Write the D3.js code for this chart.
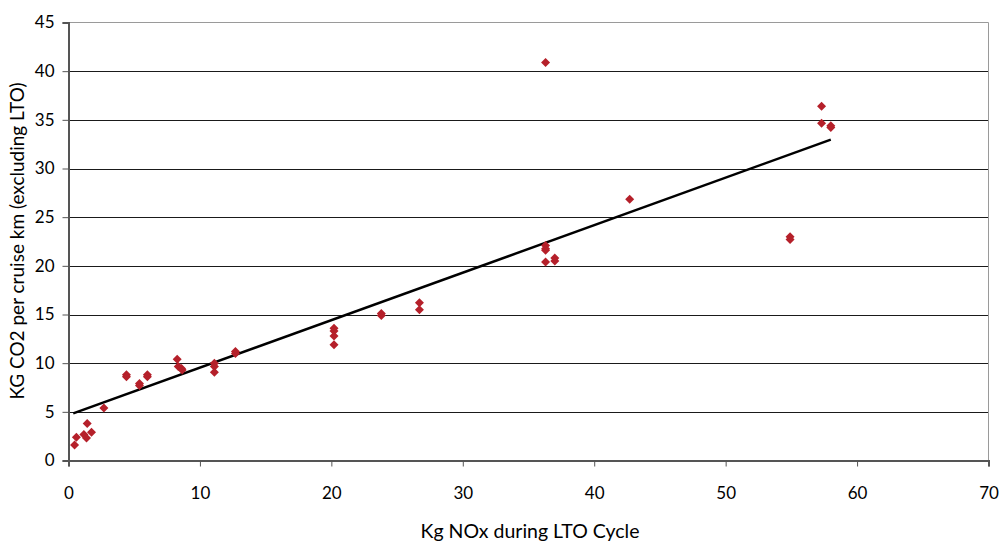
<!DOCTYPE html>
<html>
<head>
<meta charset="utf-8">
<script src="https://cdn.jsdelivr.net/npm/d3@7"></script>
<style>
  html, body { margin: 0; padding: 0; background: #ffffff; }
  svg { display: block; }
  text { font-family: "Lato", "Open Sans", sans-serif; fill: #000; }
</style>
</head>
<body>
<svg id="chart" width="1001" height="551"></svg>
<script>
// ---- data ----
const noxKg = [0.46, 0.6, 1.17, 1.37, 1.42, 1.75, 2.69, 4.41, 4.41, 5.4, 5.4, 6.0, 6.0,
  8.27, 8.35, 8.6, 8.65, 11.1, 11.1, 11.1, 12.7, 12.7, 20.2, 20.2, 20.2, 20.2,
  23.8, 23.8, 26.7, 26.7, 36.3, 36.3, 36.3, 36.3, 36.3, 37.0, 37.0, 42.7,
  54.9, 54.9, 57.3, 57.3, 58.0, 58.0];
const co2Kg = [1.6, 2.4, 2.67, 2.3, 3.8, 2.9, 5.4, 8.8, 8.6, 7.9, 7.7, 8.8, 8.6,
  10.4, 9.66, 9.45, 9.3, 10.0, 9.66, 9.07, 11.2, 11.0, 13.6, 13.3, 12.8, 11.9,
  15.1, 14.9, 16.2, 15.5, 40.9, 22.1, 21.75, 21.6, 20.4, 20.8, 20.5, 26.85,
  23.0, 22.7, 36.4, 34.65, 34.4, 34.2];
// linear trendline as shown on the chart: [slope, intercept]
const trendCoef = [0.488, 4.66];
const xTicks = [0, 10, 20, 30, 40, 50, 60, 70];
const yTicks = [0, 5, 10, 15, 20, 25, 30, 35, 40, 45];
const xTitle = "Kg NOx during LTO Cycle";
const yTitle = "KG CO2 per cruise km (excluding LTO)";

// ---- layout ----
const svg = d3.select("#chart");
const L = 68.5, R = 988.5, T = 22.5, B = 460.5;
const x = d3.scaleLinear().domain([0, 70]).range([L, R]);
const y = d3.scaleLinear().domain([0, 45]).range([B, T]);

// gridlines
svg.append("g").selectAll("line").data(yTicks.filter(v => v > 0 && v < 45)).join("line")
  .attr("x1", L).attr("x2", R)
  .attr("y1", d => Math.round(y(d)) + 0.5).attr("y2", d => Math.round(y(d)) + 0.5)
  .attr("stroke", "#1a1a1a").attr("stroke-width", 1);

// plot border (top, right)
svg.append("path")
  .attr("d", `M${L},${T}H${R}V${B}`)
  .attr("fill", "none").attr("stroke", "#9a9a9a").attr("stroke-width", 1);

// axes
const xAxis = d3.axisBottom(x).tickValues(xTicks).tickSize(6).tickPadding(20).tickFormat(d3.format("d"));
const yAxis = d3.axisLeft(y).tickValues(yTicks).tickSize(6).tickPadding(8).tickFormat(d3.format("d"));

const gx = svg.append("g").attr("transform", `translate(0,${B})`).call(xAxis);
const gy = svg.append("g").attr("transform", `translate(${L},0)`).call(yAxis);
[gx, gy].forEach(g => {
  g.select(".domain").attr("stroke", "#555").attr("stroke-width", 2);
  g.selectAll(".tick line").attr("stroke", "#555").attr("stroke-width", 1);
  g.selectAll(".tick text").attr("font-family", "Lato, sans-serif").attr("font-size", 17).attr("fill", "#000");
});

// trendline over the data's x extent
const [x0, x1] = d3.extent(noxKg);
const trend = t => trendCoef[0] * t + trendCoef[1];
svg.append("line")
  .attr("x1", x(x0 - 0.1)).attr("y1", y(trend(x0 - 0.1)))
  .attr("x2", x(x1)).attr("y2", y(trend(x1)))
  .attr("stroke", "#000").attr("stroke-width", 2.5);

// points
const pts = noxKg.map((v, i) => ({ x: v, y: co2Kg[i] }));
svg.append("g").selectAll("path").data(pts).join("path")
  .attr("transform", d => `translate(${x(d.x)},${y(d.y)})`)
  .attr("d", "M0,-4.5L4.5,0L0,4.5L-4.5,0Z")
  .attr("fill", "#b5202a");

// titles
svg.append("text").attr("x", 530).attr("y", 538).attr("text-anchor", "middle")
  .attr("font-size", 19.5).text(xTitle);
svg.append("text").attr("transform", `translate(24,${241}) rotate(-90)`)
  .attr("text-anchor", "middle").attr("font-size", 19).text(yTitle);
</script>
</body>
</html>
